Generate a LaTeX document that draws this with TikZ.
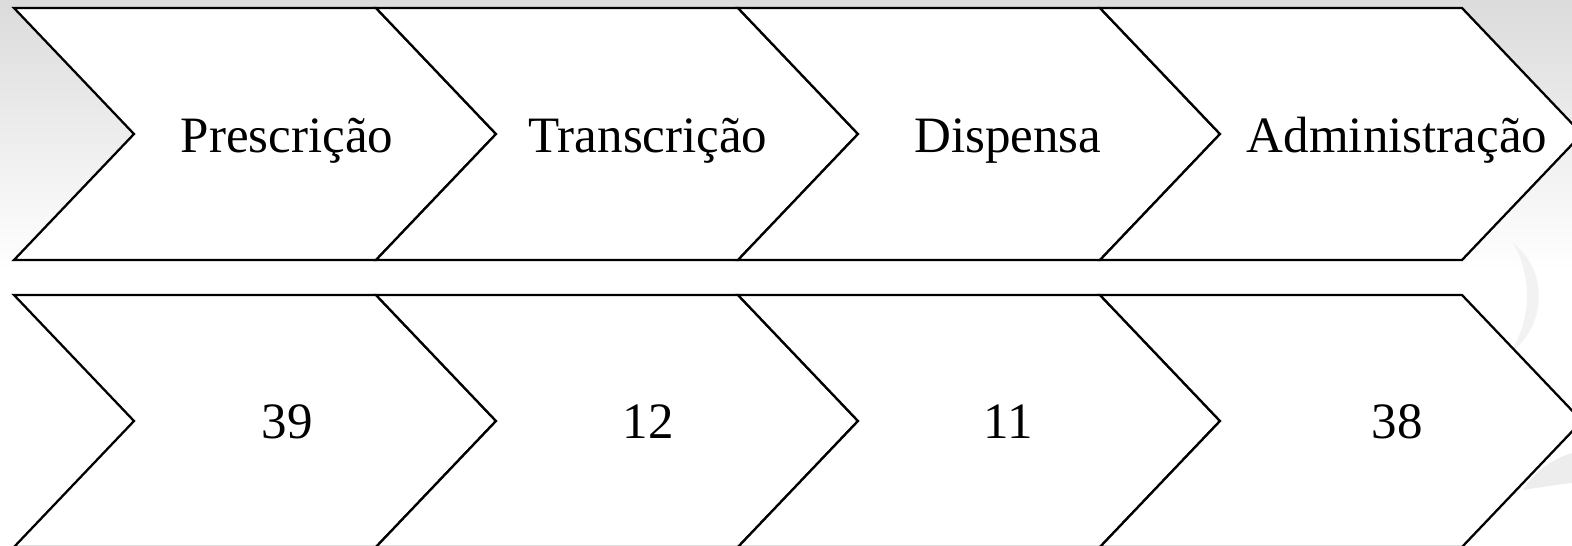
\documentclass[tikz,border=0pt]{standalone}
\usepackage{fontspec}
\setmainfont{Liberation Serif}
\tikzstyle{seta} = [draw=black, line width=0.65pt, fill=white, line join=miter]
\tikzstyle{rotulo} = [font=\fontsize{14.5}{17}\selectfont, anchor=base]

\begin{document}
\begin{tikzpicture}[x=0.01cm, y=-0.01cm]
\useasboundingbox (0,0) rectangle (1572,545);
\clip (0,0) rectangle (1572,545);

% Background
\shade[top color=gray!28, bottom color=white] (0,0) rectangle (1572,270);
\fill[gray!10] (1513,243) .. controls (1548,270) and (1548,325) .. (1510,353)
    .. controls (1532,320) and (1532,275) .. cycle;
\fill[gray!14] (1523,490) .. controls (1535,470) and (1555,458) .. (1572,453)
    -- (1572,483) .. controls (1555,485) and (1535,488) .. cycle;

% Chevrons: stage names on top, counts below
\foreach \i/\etapa/\num/\tx [evaluate=\i as \xa using 14+362*\i] in
    {0/Prescrição/39/287, 1/Transcrição/12/648, 2/Dispensa/11/1008, 3/Administração/38/1397} {
  \draw[seta] (\xa,8) -- (\xa+362,8) -- (\xa+482,134) -- (\xa+362,260)
      -- (\xa,260) -- (\xa+120,134) -- cycle;
  \draw[seta] (\xa,295) -- (\xa+362,295) -- (\xa+482,421) -- (\xa+362,547)
      -- (\xa,547) -- (\xa+120,421) -- cycle;
  \node[rotulo] (etapa\i) at (\tx,152) {\etapa};
  \node[rotulo] (num\i) at (\tx,438) {\num};
}

\end{tikzpicture}
\end{document}
